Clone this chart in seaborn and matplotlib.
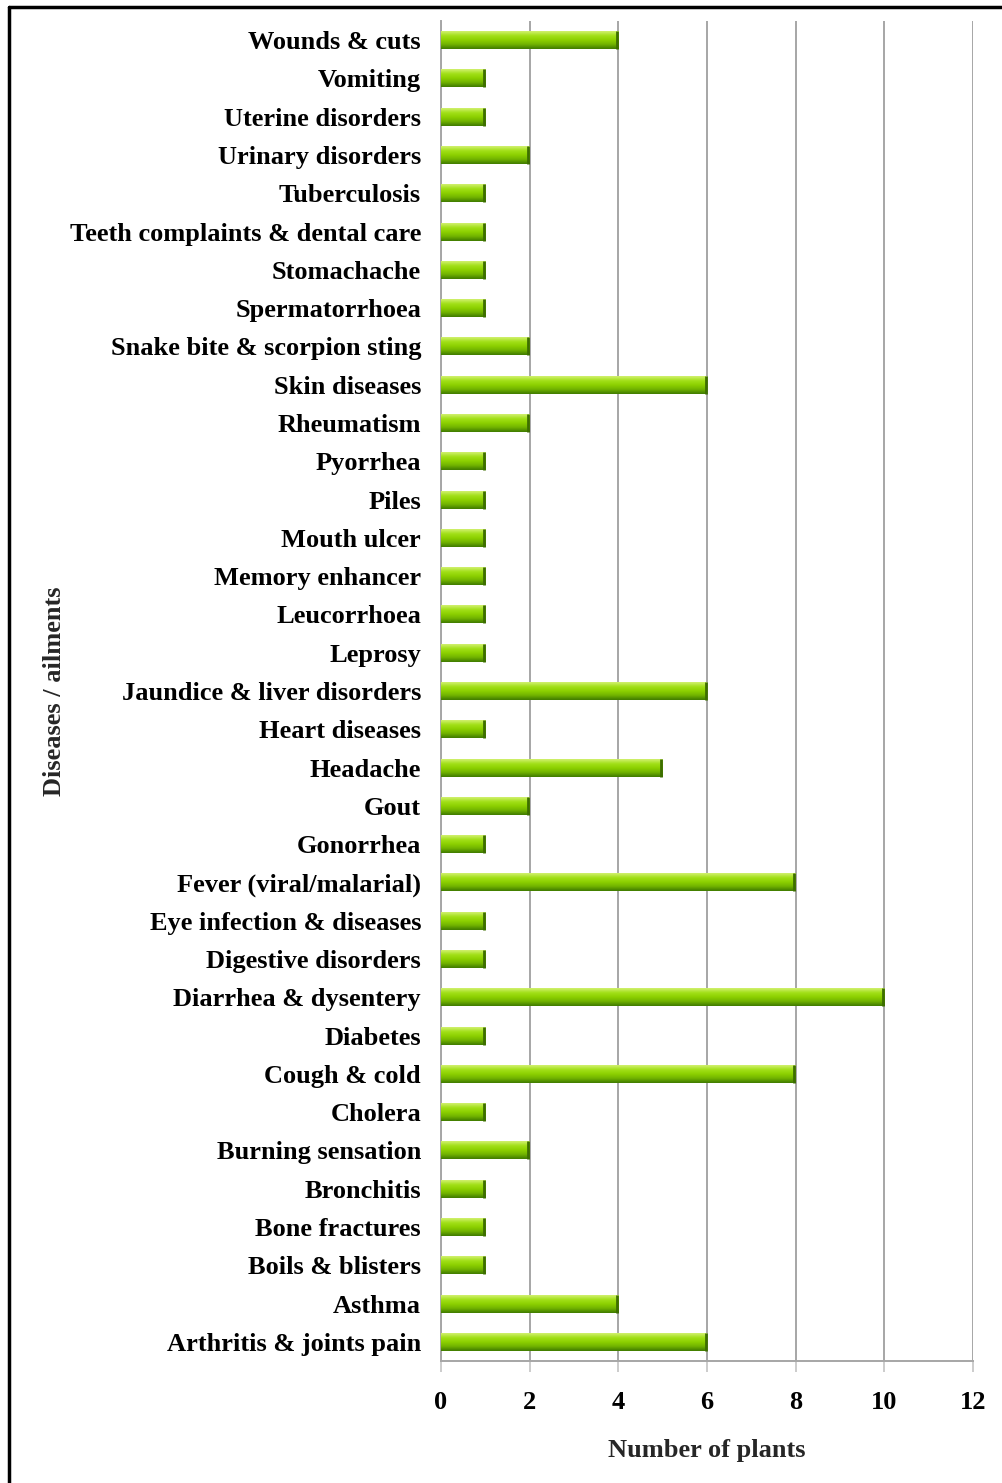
import numpy as np
import pandas as pd
import matplotlib
matplotlib.use("Agg")
import matplotlib.pyplot as plt
import seaborn as sns
from matplotlib.colors import LinearSegmentedColormap
from matplotlib.lines import Line2D

diseases = [
    "Wounds & cuts", "Vomiting", "Uterine disorders", "Urinary disorders",
    "Tuberculosis", "Teeth complaints & dental care", "Stomachache",
    "Spermatorrhoea", "Snake bite & scorpion sting", "Skin diseases",
    "Rheumatism", "Pyorrhea", "Piles", "Mouth ulcer", "Memory enhancer",
    "Leucorrhoea", "Leprosy", "Jaundice & liver disorders", "Heart diseases",
    "Headache", "Gout", "Gonorrhea", "Fever (viral/malarial)",
    "Eye infection & diseases", "Digestive disorders", "Diarrhea & dysentery",
    "Diabetes", "Cough & cold", "Cholera", "Burning sensation", "Bronchitis",
    "Bone fractures", "Boils & blisters", "Asthma", "Arthritis & joints pain",
]
num_plants = [4, 1, 1, 2, 1, 1, 1, 1, 2, 6, 2, 1, 1, 1, 1, 1, 1, 6, 1, 5,
              2, 1, 8, 1, 1, 10, 1, 8, 1, 2, 1, 1, 1, 4, 6]
x_ticks = [0, 2, 4, 6, 8, 10, 12]

df = pd.DataFrame({"Disease": diseases, "Plants": num_plants})

sns.set_theme(style="white")
plt.rcParams['font.family'] = ['Liberation Serif', 'DejaVu Serif']
plt.rcParams['font.weight'] = 'bold'

FS = 19

fig = plt.figure(figsize=(10.03, 14.83), dpi=100)
ax = fig.add_axes([0.4397, 0.0823, 0.9701 - 0.4397, 0.9858 - 0.0823])

sns.barplot(data=df, x="Plants", y="Disease", orient="h", color="#8ed200",
            width=0.47, ax=ax, zorder=3, linewidth=0)

ax.set_xlim(0, 12)
ax.set_ylim(len(diseases) - 0.5, -0.5)
ax.set_xticks(x_ticks)
ax.set_xticklabels([str(t) for t in x_ticks], fontsize=FS, fontweight='bold')
ax.set_yticklabels(diseases, fontsize=FS, fontweight='bold')

grid_c = "#a6a6a6"
for t in x_ticks:
    ax.axvline(t, color=grid_c, lw=1.4, zorder=1)
for s in ["top", "right"]:
    ax.spines[s].set_visible(False)
for s in ["left", "bottom"]:
    ax.spines[s].set_color(grid_c)
    ax.spines[s].set_linewidth(1.4)
ax.tick_params(axis="x", bottom=True, length=8, color="#c4c4c4", width=1.2,
               pad=13.6, labelcolor="black")
ax.tick_params(axis="y", left=False, length=0, pad=14.4, labelcolor="black")

ax.set_xlabel("Number of plants", fontsize=FS, fontweight='bold', labelpad=18)
ax.set_ylabel("Diseases / ailments", fontsize=FS, fontweight='bold')
ax.yaxis.set_label_coords(-0.705, 0.5, transform=ax.transAxes)

# gradient shading on bars
cmap = LinearSegmentedColormap.from_list(
    "g", ["#d2f070", "#a2e018", "#8cd000", "#70b200", "#3f7a00"])
grad = np.linspace(0, 1, 64).reshape(-1, 1)
for p in ax.patches:
    x0, y0 = p.get_x(), p.get_y()
    w, h = p.get_width(), p.get_height()
    im = ax.imshow(grad, cmap=cmap, aspect="auto",
                   extent=(x0, x0 + w, y0 + h, y0), zorder=4,
                   interpolation="bicubic")
    im.set_clip_path(p)
    ax.plot([x0 + w - 0.03, x0 + w - 0.03], [y0, y0 + h], color="#3d6e00",
            lw=2.0, zorder=5, solid_capstyle="butt")
ax.set_xlim(0, 12)
ax.set_ylim(len(diseases) - 0.5, -0.5)

# figure border (top and left edges visible)
fig.add_artist(Line2D([9 / 1003, 1.0], [1 - 7 / 1483, 1 - 7 / 1483],
                      transform=fig.transFigure, color="black", lw=2.5))
fig.add_artist(Line2D([9 / 1003, 9 / 1003], [0, 1 - 7 / 1483],
                      transform=fig.transFigure, color="black", lw=2.5))

fig.savefig("out.png", dpi=100)
